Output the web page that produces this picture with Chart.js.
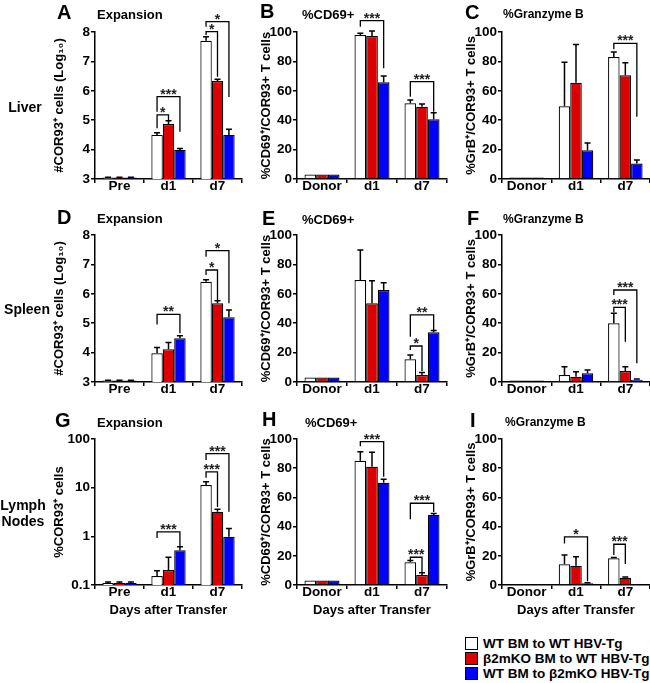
<!DOCTYPE html>
<html>
<head>
<meta charset="utf-8">
<script src="https://cdn.jsdelivr.net/npm/chart.js@4"></script>
<style>
  html, body { margin: 0; padding: 0; background: #fff; overflow: hidden; }
  body { width: 650px; height: 683px; position: relative; font-family: "Liberation Sans", Arial, sans-serif; font-weight: bold; color: #000; }
  canvas { position: absolute; }
  .t { position: absolute; white-space: nowrap; line-height: 1; transform: translateY(-50%); }
  .box { position: absolute; width: 11px; height: 11px; border: 1.5px solid #000; }
</style>
</head>
<body>
<script>
// ---- data ----
const groups = ['WT BM to WT HBV-Tg', 'β2mKO BM to WT HBV-Tg', 'WT BM to β2mKO HBV-Tg'];
const expansionCats = ['Pre', 'd1', 'd7'];
const percentCats = ['Donor', 'd1', 'd7'];
const log10Ticks = [3, 4, 5, 6, 7, 8];
const pctTicks = [0, 20, 40, 60, 80, 100];
const lnTicks = [0.1, 1, 10, 100];

// Liver
const liverExpansion = [[3.05, 4.50, 7.70], [3.05, 4.87, 6.33], [3.05, 3.99, 4.50]];
const liverExpansionErr = [[0.01, 0.07, 0.14], [0.01, 0.11, 0.06], [0.01, 0.05, 0.19]];
const liverCD69 = [[3, 98, 51.5], [3, 97.3, 49.2], [3, 65.8, 40.6]];
const liverCD69Err = [[0, 1.2, 2.2], [0, 3.4, 1.8], [0, 4.2, 4.5]];
const liverGrB = [[1, 49.5, 83], [1, 65.5, 70.5], [1, 19.5, 10.5]];
const liverGrBErr = [[0, 30, 3.4], [0, 26, 8.5], [0, 5, 2.5]];
// Spleen
const spleenExpansion = [[3.05, 3.98, 6.41], [3.05, 4.11, 5.68], [3.05, 4.49, 5.20]];
const spleenExpansionErr = [[0.01, 0.19, 0.07], [0.01, 0.23, 0.08], [0.01, 0.08, 0.25]];
const spleenCD69 = [[3, 69.4, 15.4], [3, 53.5, 4.8], [3, 62.6, 33.8]];
const spleenCD69Err = [[0, 20.4, 3], [0, 15.4, 1.6], [0, 5, 1.2]];
const spleenGrB = [[1, 4.8, 39.9], [1, 3.6, 7.5], [1, 5.9, 1.5]];
const spleenGrBErr = [[0, 5.6, 6.8], [0, 3.4, 2.9], [0, 2.3, 0.6]];
// Lymph nodes
const lnExpansion = [[0.11, 0.153, 11.3], [0.11, 0.204, 3.2], [0.11, 0.52, 0.98]];
const lnExpansionErr = [[0.005, 0.044, 1.9], [0.005, 0.166, 0.4], [0.005, 0.09, 0.47]];
const lnCD69 = [[3, 85.1, 15.5], [3, 81, 6.8], [3, 70, 48]];
const lnCD69Err = [[0, 6.2, 1.2], [0, 9.9, 1.6], [0, 2.4, 1]];
const lnGrB = [[0.5, 14.2, 18.3], [0.5, 13.2, 5], [0.5, 1.2, 0.5]];
const lnGrBErr = [[0, 6.3, 0.5], [0, 6.2, 0.5], [0, 0.4, 0]];

// significance brackets: [category, from group, to group, line y, left leg end, right leg end, label]
const liverExpansionSig = [[1, 0, 1, 5.18, 4.73, 4.95, '*'], [1, 0, 2, 5.80, 5.29, 4.61, '***'],
                           [2, 0, 1, 8.01, 7.90, 6.48, '*'], [2, 0, 2, 8.35, 8.18, 5.79, '*']];
const liverCD69Sig = [[1, 0, 2, 107.7, 103.6, 75.3, '***'], [2, 0, 2, 66.2, 56, 45.8, '***']];
const liverGrBSig = [[2, 0, 2, 92.3, 88.2, 42.4, '***']];
const spleenExpansionSig = [[1, 0, 2, 5.30, 4.96, 4.66, '**'], [2, 0, 1, 6.81, 6.64, 5.79, '*'],
                            [2, 0, 2, 7.47, 7.26, 5.68, '*']];
const spleenCD69Sig = [[2, 0, 2, 45.6, 30.8, 35.4, '**'], [2, 0, 1, 24.5, 21.8, 7.5, '*']];
const spleenGrBSig = [[2, 0, 2, 62.6, 59.2, 12.7, '***'], [2, 0, 1, 50.8, 47.5, 27.4, '***']];
const lnExpansionSig = [[1, 0, 2, 1.24, 0.92, 0.63, '***'], [2, 0, 1, 21.2, 16, 4.0, '***'],
                        [2, 0, 2, 50, 37, 3.2, '***']];
const lnCD69Sig = [[1, 0, 2, 98.2, 95, 74.2, '***'], [2, 0, 2, 56, 45, 50, '***'], [2, 0, 1, 19, 17, 8.6, '***']];
const lnGrBSig = [[1, 0, 2, 33, 28.5, 2.6, '*'], [2, 0, 1, 27.9, 20.5, 14.4, '***']];

// ---- layout / style ----
const FONT = '"Liberation Sans", Arial, sans-serif';
const barColors = ['#ffffff', '#dd0000', '#0000ff'];
const colLeft = [95, 297, 502], colRight = [242, 447, 650], colAxisW = [47, 42, 42];
const rowTop = [32, 235, 439], rowBottom = [179, 382, 585], rowXH = [20, 20, 33];
const PAD_TOP = 28, PAD_RIGHT = 6;

const panels = [
  { row: 0, col: 0, cats: expansionCats, v: liverExpansion, e: liverExpansionErr, sig: liverExpansionSig, kind: 'log10', title: '#COR93⁺ cells (Log₁₀)' },
  { row: 0, col: 1, cats: percentCats, v: liverCD69, e: liverCD69Err, sig: liverCD69Sig, kind: 'pct', title: '%CD69⁺/COR93+ T cells' },
  { row: 0, col: 2, cats: percentCats, v: liverGrB, e: liverGrBErr, sig: liverGrBSig, kind: 'pct', title: '%GrB⁺/COR93+ T cells' },
  { row: 1, col: 0, cats: expansionCats, v: spleenExpansion, e: spleenExpansionErr, sig: spleenExpansionSig, kind: 'log10', title: '#COR93⁺ cells (Log₁₀)' },
  { row: 1, col: 1, cats: percentCats, v: spleenCD69, e: spleenCD69Err, sig: spleenCD69Sig, kind: 'pct', title: '%CD69⁺/COR93+ T cells' },
  { row: 1, col: 2, cats: percentCats, v: spleenGrB, e: spleenGrBErr, sig: spleenGrBSig, kind: 'pct', title: '%GrB⁺/COR93+ T cells' },
  { row: 2, col: 0, cats: expansionCats, v: lnExpansion, e: lnExpansionErr, sig: lnExpansionSig, kind: 'ln', title: '%COR93⁺ cells' },
  { row: 2, col: 1, cats: percentCats, v: lnCD69, e: lnCD69Err, sig: lnCD69Sig, kind: 'pct', title: '%CD69⁺/COR93+ T cells' },
  { row: 2, col: 2, cats: percentCats, v: lnGrB, e: lnGrBErr, sig: lnGrBSig, kind: 'pct', title: '%GrB⁺/COR93+ T cells' },
];

// error bars (upper only)
const errorBars = {
  id: 'errorBars',
  afterDatasetsDraw(chart) {
    const ctx = chart.ctx, y = chart.scales.y;
    ctx.save();
    ctx.strokeStyle = '#000';
    ctx.lineWidth = 1.5;
    chart.data.datasets.forEach((ds, i) => {
      chart.getDatasetMeta(i).data.forEach((bar, j) => {
        const e = ds.err[j];
        if (!e) return;
        const top = y.getPixelForValue(ds.data[j] + e);
        ctx.beginPath();
        ctx.moveTo(bar.x, bar.y);
        ctx.lineTo(bar.x, top);
        ctx.moveTo(bar.x - 3, top);
        ctx.lineTo(bar.x + 3, top);
        ctx.stroke();
      });
    });
    ctx.restore();
  }
};

function brackets(list) {
  return {
    id: 'sigBrackets',
    afterDatasetsDraw(chart) {
      const ctx = chart.ctx, y = chart.scales.y;
      ctx.save();
      ctx.strokeStyle = '#000';
      ctx.fillStyle = '#222';
      ctx.lineWidth = 1.3;
      ctx.font = 'bold 14px ' + FONT;
      ctx.textAlign = 'center';
      ctx.textBaseline = 'alphabetic';
      for (const [c, a, b, yl, ya, yb, txt] of list) {
        const xa = chart.getDatasetMeta(a).data[c].x;
        const xb = chart.getDatasetMeta(b).data[c].x;
        const py = y.getPixelForValue(yl);
        ctx.beginPath();
        ctx.moveTo(xa, y.getPixelForValue(ya));
        ctx.lineTo(xa, py);
        ctx.lineTo(xb, py);
        ctx.lineTo(xb, y.getPixelForValue(yb));
        ctx.stroke();
        ctx.fillText(txt, (xa + xb) / 2, py + 2);
      }
      ctx.restore();
    }
  };
}

function yScale(kind, title) {
  const common = {
    grid: { drawOnChartArea: false, drawTicks: true, tickLength: 4, color: '#000', lineWidth: 1.5 },
    border: { display: true, color: '#000', width: 1.5 },
    ticks: { color: '#000', padding: 1, font: { size: 13.5, weight: 'bold', family: FONT } },
    title: { display: true, text: title, color: '#000', padding: { top: 4, bottom: 0 }, font: { size: 13, weight: 'bold', family: FONT } },
  };
  if (kind === 'log10') {
    return Object.assign(common, { type: 'linear', min: 3, max: 8,
      afterBuildTicks: s => { s.ticks = log10Ticks.map(v => ({ value: v })); } });
  }
  if (kind === 'ln') {
    common.ticks.callback = v => String(v);
    return Object.assign(common, { type: 'logarithmic', min: 0.1, max: 100,
      afterBuildTicks: s => { s.ticks = lnTicks.map(v => ({ value: v, major: true })); } });
  }
  return Object.assign(common, { type: 'linear', min: 0, max: 100,
    afterBuildTicks: s => { s.ticks = pctTicks.map(v => ({ value: v })); } });
}

panels.forEach((p, n) => {
  const cv = document.createElement('canvas');
  const aw = colAxisW[p.col];
  const w = aw + (colRight[p.col] - colLeft[p.col]) + PAD_RIGHT;
  const h = PAD_TOP + (rowBottom[p.row] - rowTop[p.row]) + rowXH[p.row];
  cv.width = w; cv.height = h;
  cv.style.left = (colLeft[p.col] - aw) + 'px';
  cv.style.top = (rowTop[p.row] - PAD_TOP) + 'px';
  document.body.appendChild(cv);

  const ys = yScale(p.kind, p.title);
  ys.afterFit = s => { s.width = aw; };

  new Chart(cv, {
    type: 'bar',
    data: {
      labels: p.cats,
      datasets: p.v.map((vals, k) => ({
        label: groups[k],
        data: vals,
        err: p.e[k],
        backgroundColor: barColors[k],
        borderColor: '#000',
        borderWidth: 1.2,
        categoryPercentage: 0.7,
        barPercentage: 1.0,
      })),
    },
    options: {
      responsive: false,
      animation: false,
      layout: { padding: { top: PAD_TOP, right: PAD_RIGHT, left: 0, bottom: 0 } },
      plugins: { legend: { display: false }, tooltip: { enabled: false } },
      scales: {
        x: {
          offset: true,
          grid: { offset: true, drawOnChartArea: false, drawTicks: true, tickLength: 4, color: '#000', lineWidth: 1.5 },
          border: { display: true, color: '#000', width: 1.5 },
          ticks: { color: '#000', padding: -5, maxRotation: 0, autoSkip: false, font: { size: 13.5, weight: 'bold', family: FONT } },
          title: { display: p.row === 2, text: 'Days after Transfer', color: '#000', padding: { top: 0, bottom: 0 }, font: { size: 13, weight: 'bold', family: FONT } },
          afterFit: s => { s.height = rowXH[p.row]; },
        },
        y: ys,
      },
    },
    plugins: [errorBars, brackets(p.sig)],
  });
});

// ---- text: panel letters, titles, row names, legend ----
function addText(txt, x, y, size, extra) {
  const d = document.createElement('div');
  d.className = 't';
  d.textContent = txt;
  d.style.left = x + 'px';
  d.style.top = y + 'px';
  d.style.fontSize = size + 'px';
  if (extra) Object.assign(d.style, extra);
  document.body.appendChild(d);
  return d;
}
const letters = [['A', 57, 12], ['B', 260, 11], ['C', 465, 12], ['D', 57, 217], ['E', 262, 218], ['F', 467, 218],
                 ['G', 55, 420], ['H', 262, 419], ['I', 470, 420]];
letters.forEach(([l, x, y]) => addText(l, x, y, 20));
const titles = [['Expansion', 97, 14, 13], ['%CD69+', 302, 14, 13], ['%Granzyme B', 503, 14, 12],
                ['Expansion', 97, 218, 13], ['%CD69+', 302, 219, 13], ['%Granzyme B', 503, 219, 12],
                ['Expansion', 97, 422, 13], ['%CD69+', 305, 422, 13], ['%Granzyme B', 505, 422, 12]];
titles.forEach(([t, x, y, s]) => addText(t, x, y, s));

const center = { width: '56px', textAlign: 'center' };
addText('Liver', -3, 107, 14, center);
addText('Spleen', -1, 309, 14, center);
addText('Lymph', -5, 505, 14, center);
addText('Nodes', -5, 521, 14, center);

groups.forEach((g, k) => {
  const y = 644 + k * 15;
  const b = document.createElement('div');
  b.className = 'box';
  b.style.left = '465px';
  b.style.top = (y - 7) + 'px';
  b.style.background = barColors[k];
  document.body.appendChild(b);
  addText(g, 483, y, 13.5);
});
</script>
</body>
</html>
